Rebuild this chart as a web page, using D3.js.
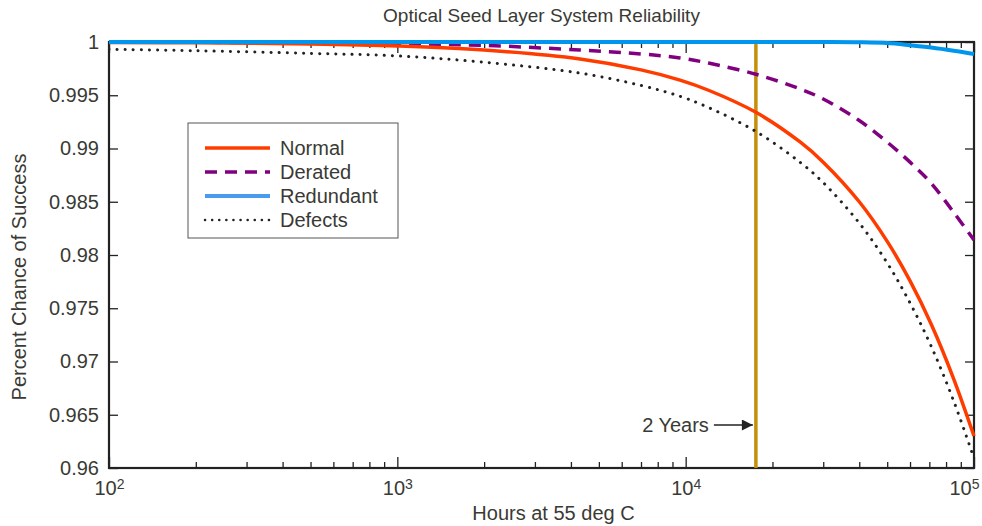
<!DOCTYPE html>
<html>
<head>
<meta charset="utf-8">
<title>Optical Seed Layer System Reliability</title>
<script src="https://d3js.org/d3.v7.min.js"></script>
<style>
body { margin: 0; background: white; }
svg { font-family: "Liberation Sans", Arial, sans-serif; }
.axis path { display: none; }
.axis line { stroke: #222; stroke-width: 1.3; }
.axis text { fill: #3a3a35; font-size: 20px; font-family: "Liberation Sans", Arial, sans-serif; }
</style>
</head>
<body>
<svg width="982" height="526"></svg>

<script>
// hours sampled along the x axis
var hours = [100, 200, 500, 1000, 2000, 4300, 7000, 9560, 12000, 17520, 25000, 30000, 40000, 50000, 60000, 71000, 85000, 100000];

// values
var normal    = [0.99996, 0.99992, 0.99981, 0.99962, 0.99924, 0.99840, 0.99738, 0.99642, 0.99547, 0.99340, 0.99059, 0.98872, 0.98500, 0.98128, 0.97757, 0.97352, 0.96838, 0.96300];
var derated   = [0.99998, 0.99997, 0.99992, 0.99984, 0.99968, 0.99925, 0.99888, 0.99850, 0.99802, 0.99697, 0.99558, 0.99465, 0.99263, 0.99060, 0.98872, 0.98675, 0.98401, 0.98140];
var redundant = [1, 1, 1, 1, 1, 1, 1, 1, 1, 1, 1, 1, 0.99998, 0.99990, 0.99970, 0.99948, 0.99918, 0.99887];
var defects   = [0.99931, 0.99918, 0.99893, 0.99869, 0.99810, 0.99708, 0.99592, 0.99490, 0.99385, 0.99160, 0.98868, 0.98680, 0.98300, 0.97925, 0.97550, 0.97145, 0.96630, 0.96090];

var seriesNames = ["Normal", "Derated", "Redundant", "Defects"];
var yTicks = [0.96, 0.965, 0.97, 0.975, 0.98, 0.985, 0.99, 0.995, 1];
var yTickLabels = ["0.96", "0.965", "0.97", "0.975", "0.98", "0.985", "0.99", "0.995", "1"];
var xMajor = [100, 1000, 10000, 100000];
var xMajorExp = ["2", "3", "4", "5"];
var twoYears = 17520;

var mLeft = 109, mRight = 974, mTop = 42, mBottom = 468;

var svg = d3.select("svg");
var x = d3.scaleLog().domain([100, 100000]).range([mLeft, mRight]);
var y = d3.scaleLinear().domain([0.96, 1]).range([mBottom, mTop]);

var styles = {
  "Normal":    {stroke: "#ff3c00", width: 3.5, dash: null, legend: "#ff3c00"},
  "Derated":   {stroke: "#800080", width: 3.5, dash: "12,8", legend: "#800080"},
  "Redundant": {stroke: "#0096ee", width: 4, dash: null, legend: "#4a9af0"},
  "Defects":   {stroke: "#222", width: 3, dash: "0.1,8", legend: "#222"}
};
var values = {"Normal": normal, "Derated": derated, "Redundant": redundant, "Defects": defects};

// frame
svg.append("rect")
  .attr("x", mLeft).attr("y", mTop)
  .attr("width", mRight - mLeft).attr("height", mBottom - mTop)
  .attr("fill", "none").attr("stroke", "#222").attr("stroke-width", 2.2);

// minor ticks on x (bottom and top)
var minor = x.ticks().filter(function(d) { return xMajor.indexOf(d) < 0; });
svg.append("g").attr("class", "axis")
  .attr("transform", "translate(0," + mBottom + ")")
  .call(d3.axisBottom(x).tickValues(minor).tickSize(-6).tickFormat(""));
svg.append("g").attr("class", "axis")
  .attr("transform", "translate(0," + mTop + ")")
  .call(d3.axisTop(x).tickValues(minor).tickSize(-6).tickFormat(""));
svg.append("g").attr("class", "axis")
  .attr("transform", "translate(0," + mTop + ")")
  .call(d3.axisTop(x).tickValues(xMajor).tickSize(-11).tickFormat(""));

// major ticks with 10^n labels
var xAxis = svg.append("g").attr("class", "axis")
  .attr("transform", "translate(0," + mBottom + ")")
  .call(d3.axisBottom(x).tickValues(xMajor).tickSize(-11).tickPadding(13).tickFormat(""));
xAxis.selectAll(".tick text").each(function(d, i) {
  var t = d3.select(this);
  if (i == xMajor.length - 1) t.attr("x", -10);
  t.append("tspan").text("10");
  t.append("tspan").attr("dy", "-0.45em").style("font-size", "14px").text(xMajorExp[i]);
});

// y ticks left and right
svg.append("g").attr("class", "axis")
  .attr("transform", "translate(" + mLeft + ",0)")
  .call(d3.axisLeft(y).tickValues(yTicks).tickSize(-9).tickPadding(10)
    .tickFormat(function(d, i) { return yTickLabels[i]; }));
svg.append("g").attr("class", "axis")
  .attr("transform", "translate(" + mRight + ",0)")
  .call(d3.axisRight(y).tickValues(yTicks).tickSize(-9).tickFormat(""));

// curves
var line = d3.line()
  .x(function(d) { return x(d[0]); })
  .y(function(d) { return y(d[1]); })
  .curve(d3.curveCatmullRom.alpha(0.5));

svg.append("clipPath").attr("id", "clip")
  .append("rect").attr("x", mLeft).attr("y", mTop - 4)
  .attr("width", mRight - mLeft + 4).attr("height", mBottom - mTop + 4);

var plot = svg.append("g").attr("clip-path", "url(#clip)");

// 2 years marker
plot.append("line")
  .attr("x1", x(twoYears)).attr("x2", x(twoYears))
  .attr("y1", mTop).attr("y2", mBottom)
  .attr("stroke", "#c4900c").attr("stroke-width", 3.5);

["Defects", "Derated", "Normal", "Redundant"].forEach(function(name) {
  var s = styles[name];
  plot.append("path")
    .datum(hours.map(function(h, i) { return [h, values[name][i]]; }))
    .attr("d", line)
    .attr("fill", "none")
    .attr("stroke", s.stroke)
    .attr("stroke-width", s.width)
    .attr("stroke-linecap", name == "Defects" ? "round" : "butt")
    .attr("stroke-dasharray", s.dash);
});

// annotation
svg.append("defs").append("marker")
  .attr("id", "arrow").attr("viewBox", "0 0 10 10")
  .attr("refX", 10).attr("refY", 5)
  .attr("markerWidth", 17).attr("markerHeight", 11)
  .attr("markerUnits", "userSpaceOnUse")
  .attr("orient", "auto")
  .append("path").attr("d", "M0,0 L10,5 L0,10 Z").attr("fill", "#222");

svg.append("line")
  .attr("x1", x(twoYears) - 42).attr("x2", x(twoYears) - 3)
  .attr("y1", 425).attr("y2", 425)
  .attr("stroke", "#222").attr("stroke-width", 1.3)
  .attr("marker-end", "url(#arrow)");
svg.append("text")
  .attr("x", x(twoYears) - 47).attr("y", 432)
  .attr("text-anchor", "end")
  .attr("font-size", 20).attr("fill", "#3a3a35")
  .text("2 Years");

// legend
var legend = svg.append("g").attr("transform", "translate(188,123)");
legend.append("rect")
  .attr("width", 210).attr("height", 115)
  .attr("fill", "white").attr("stroke", "#555").attr("stroke-width", 1);
seriesNames.forEach(function(name, i) {
  var s = styles[name];
  var ly = 25 + i * 24;
  legend.append("line")
    .attr("x1", 17).attr("x2", 82).attr("y1", ly).attr("y2", ly)
    .attr("stroke", s.legend)
    .attr("stroke-width", name == "Defects" ? 2.5 : s.width)
    .attr("stroke-linecap", name == "Defects" ? "round" : "butt")
    .attr("stroke-dasharray", name == "Defects" ? "0.1,7" : s.dash);
  legend.append("text")
    .attr("x", 92).attr("y", ly + 7)
    .attr("font-size", 20).attr("fill", "#3a3a35")
    .text(name);
});

// titles
svg.append("text")
  .attr("x", (mLeft + mRight) / 2).attr("y", 22)
  .attr("text-anchor", "middle").attr("font-size", 19).attr("fill", "#3a3a35")
  .text("Optical Seed Layer System Reliability");
svg.append("text")
  .attr("x", (mLeft + mRight) / 2 + 12).attr("y", 520)
  .attr("text-anchor", "middle").attr("font-size", 20).attr("fill", "#3a3a35")
  .text("Hours at 55 deg C");
svg.append("text")
  .attr("transform", "translate(26," + ((mTop + mBottom) / 2 + 22) + ") rotate(-90)")
  .attr("text-anchor", "middle").attr("font-size", 20).attr("fill", "#3a3a35")
  .text("Percent Chance of Success");
</script>
</body>
</html>
